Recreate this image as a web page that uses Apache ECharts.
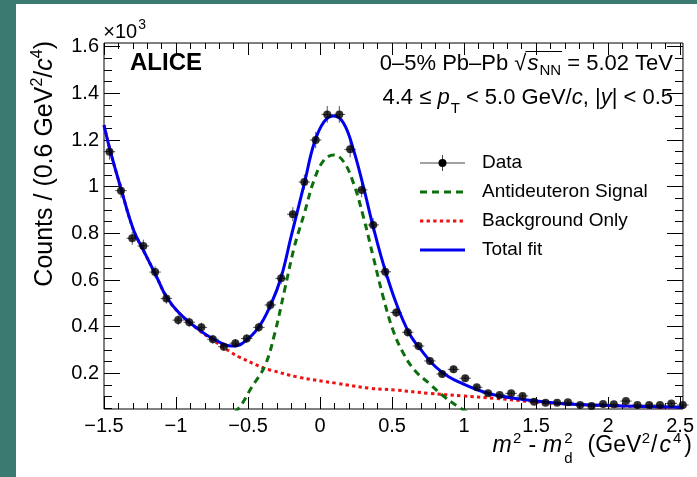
<!DOCTYPE html>
<html><head><meta charset="utf-8">
<script src="https://cdn.jsdelivr.net/npm/echarts@6/dist/echarts.min.js"></script>
<style>
html,body{margin:0;padding:0;width:697px;height:477px;overflow:hidden;background:#3a7a70;}
#panel{position:absolute;left:16px;top:4px;width:681px;height:473px;background:#fff;}
#chart{position:absolute;left:0;top:0;width:697px;height:477px;}
</style></head><body>
<div id="panel"></div><div id="chart"></div>
<script>
// ---- data ----
const dataX = [-1.462,-1.382,-1.304,-1.227,-1.145,-1.067,-0.985,-0.908,-0.824,-0.744,-0.668,-0.588,-0.509,-0.425,-0.345,-0.270,-0.189,-0.109,-0.030,0.050,0.134,0.209,0.289,0.369,0.453,0.529,0.609,0.684,0.763,0.848,0.927,1.008,1.088,1.167,1.247,1.327,1.406,1.486,1.566,1.646,1.721,1.806,1.885,1.965,2.040,2.124,2.204,2.285,2.360,2.439,2.519];
const dataY = [1.150,0.983,0.779,0.746,0.634,0.521,0.428,0.419,0.397,0.346,0.314,0.329,0.349,0.397,0.493,0.607,0.882,1.020,1.200,1.310,1.310,1.160,0.986,0.836,0.635,0.461,0.376,0.317,0.253,0.197,0.217,0.179,0.140,0.114,0.107,0.114,0.103,0.078,0.074,0.074,0.076,0.064,0.060,0.068,0.067,0.081,0.064,0.064,0.064,0.071,0.064];
const dataErr = [0.034,0.031,0.028,0.027,0.025,0.023,0.021,0.020,0.020,0.019,0.018,0.018,0.019,0.020,0.022,0.025,0.030,0.032,0.035,0.036,0.036,0.034,0.031,0.029,0.025,0.021,0.019,0.018,0.016,0.014,0.015,0.013,0.012,0.011,0.010,0.011,0.010,0.009,0.009,0.009,0.009,0.008,0.008,0.008,0.008,0.009,0.008,0.008,0.008,0.008,0.008];
const binHalfWidth = 0.04;

const totalX = [-1.5,-1.455,-1.386,-1.295,-1.227,-1.135,-1.067,-0.976,-0.839,-0.748,-0.611,-0.543,-0.429,-0.338,-0.269,-0.201,-0.109,-0.041,0.027,0.096,0.164,0.233,0.301,0.369,0.438,0.529,0.620,0.711,0.802,0.893,0.985,1.098,1.213,1.440,1.669,1.897,2.124,2.520];
const totalY = [1.264,1.150,1.000,0.814,0.728,0.614,0.528,0.457,0.386,0.350,0.317,0.327,0.395,0.500,0.614,0.786,1.014,1.186,1.278,1.303,1.272,1.157,1.000,0.828,0.671,0.500,0.371,0.293,0.228,0.185,0.157,0.128,0.107,0.086,0.071,0.064,0.060,0.054];

const signalX = [-0.660,-0.565,-0.475,-0.383,-0.315,-0.246,-0.178,-0.109,-0.041,0.027,0.096,0.164,0.233,0.301,0.369,0.438,0.506,0.575,0.655,0.757,0.848,0.951,1.020];
const signalY = [0.000,0.050,0.140,0.232,0.370,0.557,0.743,0.886,1.029,1.114,1.136,1.107,1.014,0.871,0.700,0.528,0.386,0.290,0.214,0.157,0.107,0.060,0.035];

const bgX = [-1.5,-1.455,-1.386,-1.295,-1.227,-1.135,-1.067,-0.976,-0.839,-0.748,-0.611,-0.565,-0.383,-0.338,-0.155,0.118,0.346,0.529,0.757,0.985,1.213,1.440,1.669,1.897,2.124,2.520];
const bgY = [1.264,1.150,1.000,0.814,0.728,0.614,0.528,0.457,0.384,0.344,0.287,0.271,0.220,0.213,0.184,0.157,0.136,0.128,0.114,0.103,0.093,0.080,0.070,0.063,0.059,0.053];

const xTickValues = [-1.5,-1,-0.5,0,0.5,1,1.5,2,2.5];
const xTickLabels = ['\u22121.5','\u22121','\u22120.5','0','0.5','1','1.5','2','2.5'];
const yTickValues = [0.2,0.4,0.6,0.8,1,1.2,1.4,1.6];
const yTickLabels = ['0.2','0.4','0.6','0.8','1','1.2','1.4','1.6'];
const legendNames = ['Data','Antideuteron Signal','Background Only','Total fit'];

// ---- layout ----
const X_MIN = -1.5, X_MAX = 2.52, Y_MIN = 0.047, Y_MAX = 1.616;
const FONT = 'Liberation Sans';
const xMinor = [], yMinor = [];
for (let i = 0; i <= 40; i++) xMinor.push((-15 + i) / 10);
for (let i = 1; i <= 32; i++) yMinor.push(i * 5 / 100);

function xAx(pos, vals, len, withLabels) {
  return {
    type: 'value', min: X_MIN, max: X_MAX, position: pos, gridIndex: 0,
    axisLine: { show: false, onZero: false }, splitLine: { show: false },
    axisTick: { show: true, inside: true, length: len, customValues: vals, lineStyle: { color: '#000', width: 1 } },
    axisLabel: withLabels ? {
      show: true, customValues: vals, margin: 7, fontSize: 20, fontFamily: FONT, color: '#000',
      formatter: v => xTickLabels[xTickValues.indexOf(v)]
    } : { show: false }
  };
}
function yAx(pos, vals, len, withLabels) {
  return {
    type: 'value', min: Y_MIN, max: Y_MAX, position: pos, gridIndex: 0,
    axisLine: { show: false, onZero: false }, splitLine: { show: false },
    axisTick: { show: true, inside: true, length: len, customValues: vals, lineStyle: { color: '#000', width: 1 } },
    axisLabel: withLabels ? {
      show: true, customValues: vals, margin: 5, fontSize: 20, fontFamily: FONT, color: '#000',
      formatter: v => yTickLabels[yTickValues.indexOf(v)]
    } : { show: false }
  };
}
function pairs(xs, ys) { return xs.map((x, i) => [x, ys[i]]); }

const mctx = document.createElement('canvas').getContext('2d');
function fontStr(size, italic, bold) { return (italic ? 'italic ' : '') + (bold ? 'bold ' : '') + size + 'px "' + FONT + '"'; }
function tw(t, size, italic, bold) { mctx.font = fontStr(size, italic, bold); return mctx.measureText(t).width; }

function txt(text, x, y, size, opts) {
  opts = opts || {};
  return { type: 'text', x: x, y: y, z: 50, style: {
    text: text, fill: '#000', fontSize: size, fontFamily: FONT,
    fontStyle: opts.italic ? 'italic' : 'normal', fontWeight: opts.bold ? 'bold' : 'normal',
    align: opts.align || 'left', verticalAlign: 'middle',
    textAlign: opts.align || 'left', textVerticalAlign: 'middle'
  } };
}
// lay out pieces left to right; xEnd = right edge of the whole run
function seq(pieces, xEnd, y) {
  const adv = pieces.map(p => {
    let w = tw(p.t, p.size, p.italic, p.bold);
    if (p.sub) w = Math.max(w, tw(p.sub.t, p.sub.size, p.sub.italic));
    return w;
  });
  let total = 0;
  pieces.forEach((p, i) => { total += (p.gap || 0) + adv[i]; });
  let x = xEnd - total;
  const els = [], pos = [];
  pieces.forEach((p, i) => {
    x += (p.gap || 0);
    els.push(txt(p.t, x, y + (p.dy || 0), p.size, { italic: p.italic, bold: p.bold }));
    if (p.sub) els.push(txt(p.sub.t, x, y + (p.sub.dy || 0), p.sub.size, { italic: p.sub.italic }));
    pos.push([x, adv[i]]);
    x += adv[i];
  });
  return { els: els, pos: pos };
}

const graphics = [];
// ×10^3
seq([{ t: '\u00d710', size: 20 }, { t: '3', size: 14, dy: -7, gap: 1 }], 146, 32).els.forEach(e => graphics.push(e));
// y title (rotated)
graphics.push({ type: 'text', x: 45, y: 41, rotation: Math.PI / 2, z: 50, style: {
  text: '{a|Counts / (0.6 GeV}{s|2}{a|/}{i|c}{s|4}{a|)}', align: 'right', verticalAlign: 'middle', textAlign: 'right', textVerticalAlign: 'middle',
  rich: {
    a: { fontSize: 25, fontFamily: FONT, color: '#000' },
    i: { fontSize: 25, fontFamily: FONT, fontStyle: 'italic', color: '#000' },
    s: { fontSize: 16, fontFamily: FONT, color: '#000', padding: [0, 0, 15, 0] }
  } } });
// x title
seq([
  { t: 'm', size: 23, italic: true },
  { t: '2', size: 15, dy: -7, gap: 1.5 },
  { t: '-', size: 23, gap: 7 },
  { t: 'm', size: 23, italic: true, gap: 7 },
  { t: '2', size: 15, dy: -7, gap: 2, sub: { t: 'd', size: 15, dy: 13 } },
  { t: '(GeV', size: 23, gap: 15 },
  { t: '2', size: 15, dy: -7, gap: 0.5 },
  { t: '/', size: 23, gap: 1 },
  { t: 'c', size: 23, italic: true, gap: 2 },
  { t: '4', size: 15, dy: -7, gap: 2 },
  { t: ')', size: 23, gap: 3 }
], 692, 446).els.forEach(e => graphics.push(e));
// ALICE
graphics.push(txt('ALICE', 130, 63, 24, { bold: true }));
// header line 1
const h1 = seq([
  { t: '0\u20135% Pb\u2013Pb ', size: 22 },
  { t: '\u221a', size: 22 },
  { t: 's', size: 22, italic: true, gap: 1 },
  { t: 'NN', size: 15, dy: 7, gap: 1 },
  { t: ' = 5.02 TeV', size: 22 }
], 673, 64);
h1.els.forEach(e => graphics.push(e));
graphics.push({ type: 'line', z: 50, shape: { x1: h1.pos[1][0] + h1.pos[1][1] - 1, y1: 51.5, x2: h1.pos[3][0] + h1.pos[3][1] + 1, y2: 51.5 }, style: { stroke: '#000', lineWidth: 1.2 } });
// header line 2
seq([
  { t: '4.4 \u2264 ', size: 22 },
  { t: 'p', size: 22, italic: true },
  { t: 'T', size: 15, dy: 11, gap: 1 },
  { t: ' < 5.0 GeV/', size: 22 },
  { t: 'c', size: 22, italic: true },
  { t: ', |', size: 22 },
  { t: 'y', size: 22, italic: true },
  { t: '| < 0.5', size: 22 }
], 673, 98).els.forEach(e => graphics.push(e));
// legend
const legendY = [163, 192, 221, 250];
graphics.push(
  { type: 'line', z: 50, shape: { x1: 420, y1: legendY[0], x2: 465, y2: legendY[0] }, style: { stroke: '#444', lineWidth: 1 } },
  { type: 'line', z: 50, shape: { x1: 442.5, y1: legendY[0] - 8, x2: 442.5, y2: legendY[0] + 8 }, style: { stroke: '#444', lineWidth: 1 } },
  { type: 'circle', z: 51, shape: { cx: 442.5, cy: legendY[0], r: 4 }, style: { fill: '#000' } },
  { type: 'line', z: 50, shape: { x1: 420, y1: legendY[1], x2: 465, y2: legendY[1] }, style: { stroke: '#0c6e0c', lineWidth: 3, lineDash: [7, 5] } },
  { type: 'line', z: 50, shape: { x1: 420, y1: legendY[2], x2: 465, y2: legendY[2] }, style: { stroke: '#ee1111', lineWidth: 3, lineDash: [3.3, 3.3] } },
  { type: 'line', z: 50, shape: { x1: 420, y1: legendY[3], x2: 465, y2: legendY[3] }, style: { stroke: '#0000ee', lineWidth: 3 } }
);
legendNames.forEach((n, i) => graphics.push(txt(n, 482, legendY[i], 19)));

const chart = echarts.init(document.getElementById('chart'), null, { renderer: 'canvas' });
chart.setOption({
  animation: false,
  backgroundColor: 'transparent',
  grid: { left: 104, top: 43, right: 6, bottom: 68, show: true, borderColor: '#000', borderWidth: 1, backgroundColor: 'transparent' },
  xAxis: [
    xAx('bottom', xTickValues, 12, true),
    xAx('bottom', xMinor, 6, false),
    xAx('top', xTickValues, 12, false),
    xAx('top', xMinor, 6, false)
  ],
  yAxis: [
    yAx('left', yTickValues, 16, true),
    yAx('left', yMinor, 8, false),
    yAx('right', yTickValues, 16, false),
    yAx('right', yMinor, 8, false)
  ],
  series: [
    { type: 'custom', name: 'err', xAxisIndex: 0, yAxisIndex: 0, z: 3, clip: false,
      data: dataX.map((x, i) => [x, dataY[i], dataErr[i]]),
      renderItem: (params, api) => {
        const x = api.value(0), y = api.value(1), e = api.value(2);
        const a = api.coord([x, y - e]), b = api.coord([x, y + e]);
        const c = api.coord([x - binHalfWidth, y]), d = api.coord([x + binHalfWidth, y]);
        return { type: 'group', children: [
          { type: 'line', shape: { x1: a[0], y1: a[1], x2: b[0], y2: b[1] }, style: { stroke: '#555', lineWidth: 1 } },
          { type: 'line', shape: { x1: c[0], y1: c[1], x2: d[0], y2: d[1] }, style: { stroke: '#555', lineWidth: 1 } }
        ] };
      } },
    { type: 'line', name: legendNames[2], data: pairs(bgX, bgY), showSymbol: false, smooth: 0.4, z: 4,
      lineStyle: { color: '#ee1111', width: 3, type: [3.3, 3.3] } },
    { type: 'line', name: legendNames[1], data: pairs(signalX, signalY), showSymbol: false, smooth: 0.4, z: 5,
      lineStyle: { color: '#0c6e0c', width: 3, type: [7, 5] } },
    { type: 'line', name: legendNames[3], data: pairs(totalX, totalY), showSymbol: false, smooth: 0.4, z: 6,
      lineStyle: { color: '#0000ee', width: 3 } },
    { type: 'scatter', name: legendNames[0], data: pairs(dataX, dataY), symbol: 'circle', symbolSize: 8, z: 10, clip: false,
      itemStyle: { color: '#000' } }
  ],
  graphic: graphics
});
</script>
</body></html>
